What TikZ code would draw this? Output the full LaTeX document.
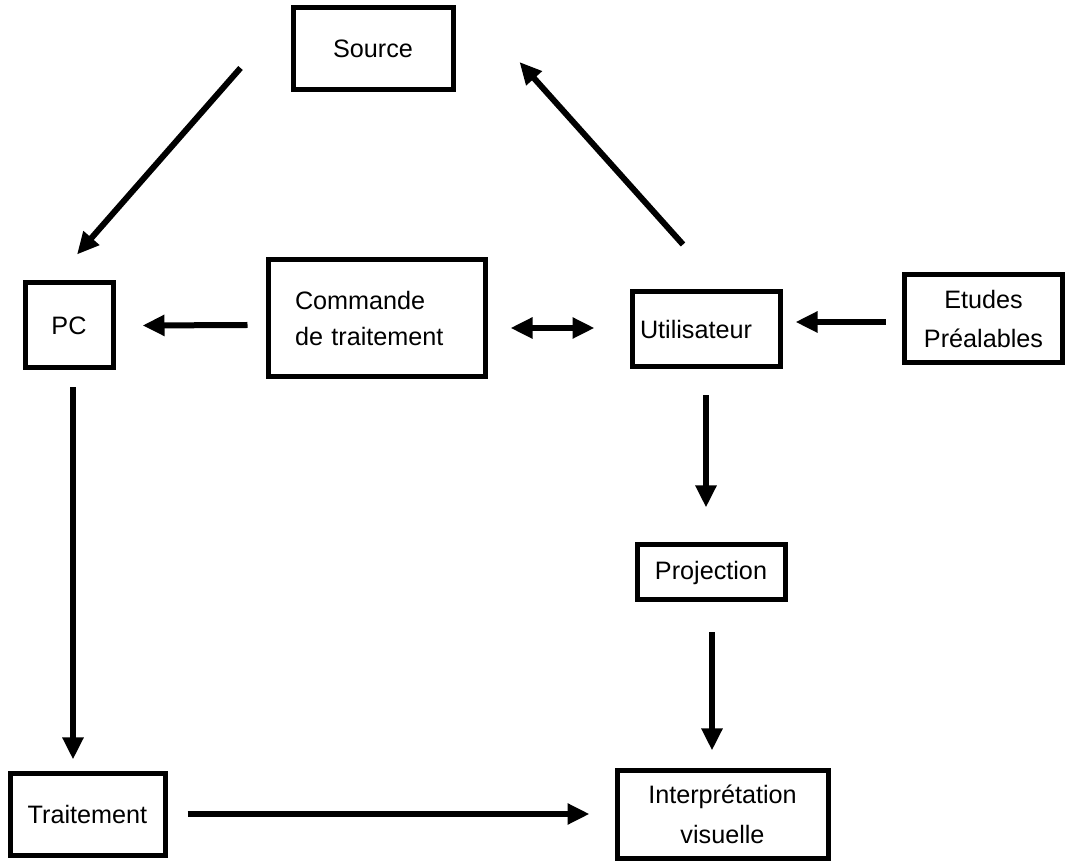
\documentclass[tikz,border=0pt]{standalone}
\usepackage{fontspec}
\setmainfont{Liberation Sans}
\usetikzlibrary{arrows.meta}

\begin{document}
\begin{tikzpicture}[x=0.5pt,y=-0.5pt,
  font=\fontsize{12.6}{18}\selectfont,
  bloc/.style={draw,line width=2.5pt,rectangle,inner sep=0pt},
  fleche/.style={line width=3pt,-{Triangle[length=11pt,width=10pt]}}]
  \useasboundingbox (0,0) rectangle (1066,865);

  \node[bloc,minimum width=80pt,minimum height=41pt]     (source)   at (373,49)     {Source};
  \node[bloc,minimum width=44pt,minimum height=42.5pt]   (pc)       at (69,325.5)   {PC};
  \node[bloc,text width=81.5pt,inner xsep=13.5pt,align=left,
        minimum height=58.5pt]                           (commande) at (376.5,318.5) {Commande\\de traitement};
  \node[bloc,text width=66pt,inner xsep=4pt,align=left,
        minimum height=37.5pt]                           (util)     at (706,329.5)  {Utilisateur};
  \node[bloc,minimum width=79pt,minimum height=44pt,
        align=center]                                    (etudes)   at (983.5,319)  {Etudes\\[1.5pt]Préalables};
  \node[bloc,minimum width=74pt,minimum height=27.5pt]   (proj)     at (711,572.5)  {Projection};
  \node[bloc,minimum width=77.5pt,minimum height=41pt]   (trait)    at (87.5,814)   {Traitement};
  \node[bloc,minimum width=105.5pt,minimum height=44pt,
        align=center]                                    (interp)   at (722.5,814)  {Interprétation\\[2pt]visuelle};

  % fleches
  \draw[fleche] ([shift={(-50,19)}]source.west)   -- ([shift={(8,-26)}]pc.north);
  \draw[fleche] ([shift={(-23,-45)}]util.north)   -- ([shift={(64,13)}]source.east);
  \draw[fleche] ([shift={(-18,6.5)}]commande.west) -- ([shift={(27,0)}]pc.east);
  \draw[fleche,{Triangle[length=11pt,width=10pt]}-{Triangle[length=11pt,width=10pt]}]
                ([shift={(23,9.5)}]commande.east) -- ([shift={(-35,-1.5)}]util.west);
  \draw[fleche] ([shift={(-16.5,3)}]etudes.west)  -- ([shift={(13,-7.5)}]util.east);
  \draw[fleche] ([shift={(0,26)}]util.south)      -- ([shift={(-5,-35)}]proj.north);
  \draw[fleche] ([shift={(1,30)}]proj.south)      -- ([shift={(-10.5,-17)}]interp.north);
  \draw[fleche] ([shift={(4,17)}]pc.south)        -- ([shift={(-14.5,-11)}]trait.north);
  \draw[fleche] ([shift={(20,0)}]trait.east)      -- ([shift={(-25,0)}]interp.west);
\end{tikzpicture}
\end{document}
